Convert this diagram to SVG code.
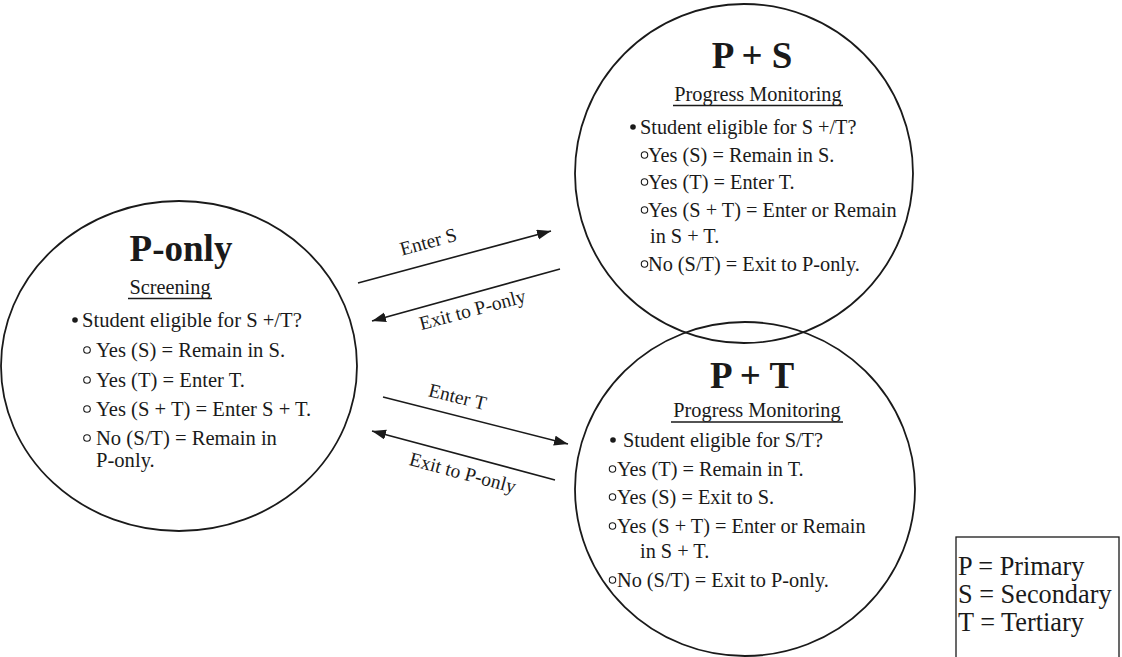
<svg xmlns="http://www.w3.org/2000/svg" width="1122" height="657" viewBox="0 0 1122 657">
  <style>
    .ring { fill: none; stroke: #1a1a1a; stroke-width: 1.8; }
    .title { font-family: "Liberation Serif", "Times New Roman", serif; font-weight: bold; font-size: 37px; fill: #1a1a1a; text-anchor: middle; }
    .sub { font-family: "Liberation Serif", "Times New Roman", serif; font-size: 20.3px; fill: #1a1a1a; text-anchor: middle; }
    .body { font-family: "Liberation Serif", "Times New Roman", serif; font-size: 20.3px; fill: #1a1a1a; }
    .big { font-size: 20.6px; }
    .lbl { font-family: "Liberation Serif", "Times New Roman", serif; font-size: 19.5px; fill: #1a1a1a; text-anchor: middle; }
    .key { font-family: "Liberation Serif", "Times New Roman", serif; font-size: 26.3px; fill: #1a1a1a; }
    .uline { stroke: #1a1a1a; stroke-width: 1.3; }
    .dot { fill: #1a1a1a; }
    .hollow { fill: none; stroke: #1a1a1a; stroke-width: 1.1; }
    .edge { stroke: #1a1a1a; stroke-width: 1.6; fill: none; marker-end: url(#head); }
  </style>
  <defs>
    <marker id="head" markerUnits="userSpaceOnUse" markerWidth="16" markerHeight="12" refX="14" refY="5" orient="auto">
      <path d="M0,0 L14,5 L0,10 Z" fill="#1a1a1a"/>
    </marker>
  </defs>

  <!-- P-only state -->
  <g id="p-only">
    <ellipse class="ring" cx="179" cy="366" rx="178" ry="165"/>
    <text class="title" x="181" y="261">P-only</text>
    <text class="sub" x="170" y="294">Screening</text>
    <line class="uline" x1="128" y1="298.5" x2="212" y2="298.5"/>
    <circle class="dot" cx="75" cy="320" r="2.8"/>
    <text class="body big" x="82" y="327">Student eligible for S +/T?</text>
    <circle class="hollow" cx="87" cy="350" r="3.3"/>
    <text class="body big" x="96" y="357">Yes (S) = Remain in S.</text>
    <circle class="hollow" cx="87" cy="380" r="3.3"/>
    <text class="body big" x="96" y="387">Yes (T) = Enter T.</text>
    <circle class="hollow" cx="87" cy="409" r="3.3"/>
    <text class="body big" x="96" y="416">Yes (S + T) = Enter S + T.</text>
    <circle class="hollow" cx="87" cy="438" r="3.3"/>
    <text class="body big" x="96" y="445">No (S/T) = Remain in</text>
    <text class="body big" x="96" y="467">P-only.</text>
  </g>

  <!-- P + S state -->
  <g id="p-plus-s">
    <ellipse class="ring" cx="744" cy="173.5" rx="169" ry="169.5"/>
    <text class="title" x="752" y="68">P + S</text>
    <text class="sub" x="758" y="101">Progress Monitoring</text>
    <line class="uline" x1="673" y1="105.5" x2="843" y2="105.5"/>
    <circle class="dot" cx="633" cy="127" r="2.8"/>
    <text class="body" x="640" y="134">Student eligible for S +/T?</text>
    <circle class="hollow" cx="644.5" cy="155" r="3.2"/>
    <text class="body" x="648" y="162">Yes (S) = Remain in S.</text>
    <circle class="hollow" cx="644.5" cy="182" r="3.2"/>
    <text class="body" x="648" y="189">Yes (T) = Enter T.</text>
    <circle class="hollow" cx="644.5" cy="210" r="3.2"/>
    <text class="body" x="648" y="217">Yes (S + T) = Enter or Remain</text>
    <text class="body" x="650" y="243">in S + T.</text>
    <circle class="hollow" cx="644.5" cy="264" r="3.2"/>
    <text class="body" x="648" y="271">No (S/T) = Exit to P-only.</text>
  </g>

  <!-- P + T state -->
  <g id="p-plus-t">
    <ellipse class="ring" cx="745" cy="489" rx="170" ry="167"/>
    <text class="title" x="752" y="388">P + T</text>
    <text class="sub" x="757" y="417">Progress Monitoring</text>
    <line class="uline" x1="671" y1="422" x2="843" y2="422"/>
    <circle class="dot" cx="613" cy="440" r="2.8"/>
    <text class="body" x="623" y="447">Student eligible for S/T?</text>
    <circle class="hollow" cx="612.5" cy="469" r="3.2"/>
    <text class="body" x="617" y="476">Yes (T) = Remain in T.</text>
    <circle class="hollow" cx="612.5" cy="497" r="3.2"/>
    <text class="body" x="617" y="504">Yes (S) = Exit to S.</text>
    <circle class="hollow" cx="612.5" cy="526" r="3.2"/>
    <text class="body" x="617" y="533">Yes (S + T) = Enter or Remain</text>
    <text class="body" x="640" y="558">in S + T.</text>
    <circle class="hollow" cx="612.5" cy="580" r="3.2"/>
    <text class="body" x="617" y="587">No (S/T) = Exit to P-only.</text>
  </g>

  <!-- transitions between states -->
  <g id="connectors">
    <line class="edge" x1="358" y1="283" x2="551" y2="231"/>
    <text class="lbl" transform="translate(430,248) rotate(-15.5)">Enter S</text>
    <line class="edge" x1="560" y1="269" x2="372" y2="321"/>
    <text class="lbl" transform="translate(474,316) rotate(-15)">Exit to P-only</text>
    <line class="edge" x1="383" y1="397" x2="568" y2="444"/>
    <text class="lbl" transform="translate(456,403) rotate(14)">Enter T</text>
    <line class="edge" x1="555" y1="480" x2="372" y2="431"/>
    <text class="lbl" transform="translate(461,479) rotate(15)">Exit to P-only</text>
  </g>

  <!-- abbreviation key -->
  <g id="legend">
    <rect x="956" y="537" width="163" height="130" fill="none" stroke="#1a1a1a" stroke-width="1.3"/>
    <text class="key" x="958" y="575">P = Primary</text>
    <text class="key" x="958" y="603">S = Secondary</text>
    <text class="key" x="958" y="631">T = Tertiary</text>
  </g>
</svg>
